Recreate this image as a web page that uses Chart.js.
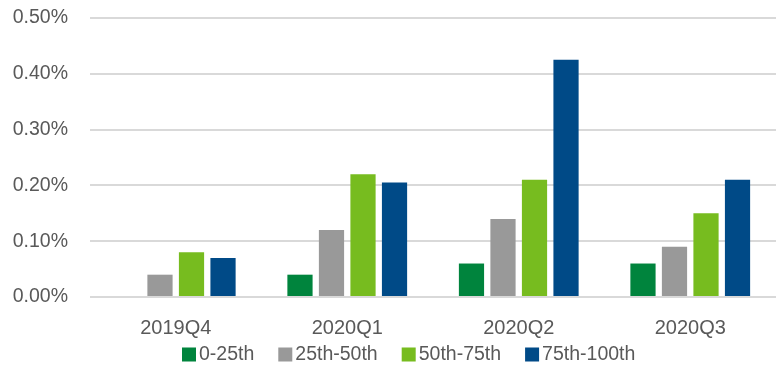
<!DOCTYPE html>
<html>
<head>
<meta charset="utf-8">
<script src="https://cdn.jsdelivr.net/npm/chart.js@4/dist/chart.umd.min.js"></script>
<style>
  html, body { margin: 0; padding: 0; background: #ffffff; }
  #wrap { width: 776px; height: 366px; position: relative; }
</style>
</head>
<body>
<div id="wrap"><canvas id="c" width="776" height="366"></canvas></div>
<script>
const categories = ['2019Q4', '2020Q1', '2020Q2', '2020Q3'];
const seriesNames = ['0-25th', '25th-50th', '50th-75th', '75th-100th'];
const q0to25 = [0, 0.04, 0.06, 0.06];
const q25to50 = [0.04, 0.12, 0.14, 0.09];
const q50to75 = [0.08, 0.22, 0.21, 0.15];
const q75to100 = [0.07, 0.205, 0.425, 0.21];
const yTicks = [0, 0.1, 0.2, 0.3, 0.4, 0.5];

const colors = ['#00843D', '#999999', '#77BC1F', '#004A87'];
const seriesValues = [q0to25, q25to50, q50to75, q75to100];
const FONT = '"Liberation Sans", Arial, sans-serif';
const FS = 19.5;

const legendPlugin = {
  id: 'customLegend',
  afterDraw(chart) {
    const ctx = chart.ctx;
    ctx.save();
    ctx.font = FS + 'px ' + FONT;
    ctx.textBaseline = 'middle';
    ctx.textAlign = 'left';
    const box = 14, gapText = 3, gapItem = 24;
    let x = 182;
    const y = 354.5;
    chart.data.datasets.forEach(ds => {
      ctx.fillStyle = ds.backgroundColor;
      ctx.fillRect(x, y - 7, box, box);
      x += box + gapText;
      ctx.fillStyle = '#595959';
      ctx.fillText(ds.label, x, y);
      x += ctx.measureText(ds.label).width + gapItem;
    });
    ctx.restore();
  }
};

new Chart(document.getElementById('c'), {
  type: 'bar',
  data: {
    labels: categories,
    datasets: seriesNames.map((n, i) => ({
      label: n,
      data: seriesValues[i],
      backgroundColor: colors[i],
      borderWidth: 0,
      categoryPercentage: 0.735,
      barPercentage: 0.8
    }))
  },
  options: {
    responsive: false,
    animation: false,
    layout: { padding: { left: 0, right: 0, top: 18, bottom: 27 } },
    plugins: {
      legend: { display: false },
      tooltip: { enabled: false }
    },
    scales: {
      x: {
        grid: { display: false, drawTicks: false },
        border: { display: false },
        ticks: { color: '#595959', font: { family: FONT, size: 20 }, padding: 19 },
        afterFit(scale) { scale.height = 42; }
      },
      y: {
        min: 0,
        max: 0.5,
        afterBuildTicks(scale) { scale.ticks = yTicks.map(v => ({ value: v })); },
        grid: { color: '#d9d9d9', lineWidth: 2, drawTicks: false },
        border: { display: false },
        ticks: {
          color: '#595959',
          font: { family: FONT, size: FS },
          padding: 22,
          callback: v => v.toFixed(2) + '%'
        },
        afterFit(scale) {
          scale.width = 90;
          scale.paddingTop = 0;
          scale.paddingBottom = 0;
        }
      }
    }
  },
  plugins: [legendPlugin]
});
</script>
</body>
</html>
